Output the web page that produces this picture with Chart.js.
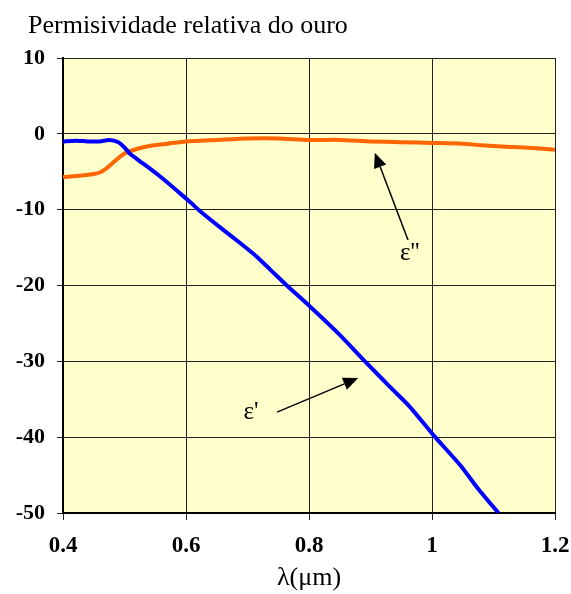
<!DOCTYPE html>
<html>
<head>
<meta charset="utf-8">
<script src="https://cdn.jsdelivr.net/npm/chart.js@4"></script>
<style>
  html,body{margin:0;padding:0;background:#fff;}
  #wrap{width:571px;height:594px;}
</style>
</head>
<body>
<div id="wrap"><canvas id="chart" width="571" height="594"></canvas></div>
<script>
const lambdaReal = [0.40,0.42,0.44,0.46,0.475,0.49,0.50,0.51,0.53,0.556,0.584,0.608,0.623,0.655,0.688,0.715,0.737,0.764,0.802,0.85,0.891,0.932,0.964,1.002,1.046,1.075,1.108];
const epsReal    = [-1.0,-0.9,-1.0,-1.0,-0.8,-1.1,-1.8,-2.7,-3.9,-5.5,-7.4,-9.1,-10.2,-12.3,-14.4,-16.2,-17.9,-20.0,-22.8,-26.5,-30.0,-33.4,-36.0,-39.7,-43.7,-46.8,-50.0];

// ε'' (imaginary part)
const lambdaImag = [0.40,0.43,0.45,0.46,0.47,0.48,0.49,0.50,0.52,0.54,0.57,0.60,0.65,0.70,0.75,0.80,0.85,0.90,0.95,1.00,1.05,1.08,1.12,1.15,1.20];
const epsImag    = [-5.7,-5.5,-5.3,-5.1,-4.6,-3.9,-3.2,-2.6,-2.0,-1.6,-1.3,-1.0,-0.8,-0.6,-0.6,-0.8,-0.8,-1.0,-1.1,-1.2,-1.3,-1.5,-1.7,-1.8,-2.1];

const xTicks = [0.4,0.6,0.8,1.0,1.2];
const yTicks = [10,0,-10,-20,-30,-40,-50];

// annotation arrows: [label, textX, textY, tailX, tailY, tipX, tipY] in data units
const arrows = [
  ["ε''", 0.964, -15.8, 0.961, -14.0, 0.907, -2.5],
  ["ε'",  0.718, -36.8, 0.748, -36.7, 0.880, -32.2]
];

const serif = "'Liberation Serif','Times New Roman',serif";
Chart.defaults.font.family = serif;
Chart.defaults.color = '#000';

const toPts = (xs, ys) => xs.map((x,i)=>({x:x, y:ys[i]}));

const bgPlugin = {
  id:'bg',
  beforeDraw(chart){
    const {ctx, chartArea:a} = chart;
    ctx.save();
    ctx.fillStyle = '#FFFFCC';
    ctx.fillRect(a.left, a.top, a.right-a.left, a.bottom-a.top);
    ctx.restore();
  },
  afterDraw(chart){
    const ctx = chart.ctx;
    ctx.save();
    ctx.fillStyle = '#000';
    ctx.font = '26px '+serif;
    ctx.textBaseline = 'alphabetic';
    ctx.fillText('Permisividade relativa do ouro', 28, 33);
    ctx.restore();
  }
};

const arrowPlugin = {
  id:'arrows',
  afterDatasetsDraw(chart){
    const {ctx, scales:{x, y}} = chart;
    ctx.save();
    arrows.forEach(a=>{
      const tx = x.getPixelForValue(a[1]), ty = y.getPixelForValue(a[2]);
      const x0 = x.getPixelForValue(a[3]), y0 = y.getPixelForValue(a[4]);
      const x1 = x.getPixelForValue(a[5]), y1 = y.getPixelForValue(a[6]);
      const ang = Math.atan2(y1-y0, x1-x0);
      const hl = 15, hw = 6.5;
      ctx.strokeStyle = '#000'; ctx.fillStyle = '#000'; ctx.lineWidth = 1.5;
      ctx.beginPath();
      ctx.moveTo(x0, y0);
      ctx.lineTo(x1 - hl*Math.cos(ang), y1 - hl*Math.sin(ang));
      ctx.stroke();
      ctx.beginPath();
      ctx.moveTo(x1, y1);
      ctx.lineTo(x1 - hl*Math.cos(ang) - hw*Math.sin(ang), y1 - hl*Math.sin(ang) + hw*Math.cos(ang));
      ctx.lineTo(x1 - hl*Math.cos(ang) + hw*Math.sin(ang), y1 - hl*Math.sin(ang) - hw*Math.cos(ang));
      ctx.closePath();
      ctx.fill();
      ctx.font = '25px '+serif;
      ctx.textAlign = a[0]==="ε''" ? 'center' : 'right';
      ctx.textBaseline = 'middle';
      ctx.fillText(a[0], tx, ty);
    });
    ctx.restore();
  }
};

new Chart(document.getElementById('chart').getContext('2d'), {
  type:'line',
  data:{
    datasets:[
      { label:"ε'", data: toPts(lambdaReal, epsReal), borderColor:'#0000FF', borderWidth:4, pointRadius:0, tension:0.2, fill:false },
      { label:"ε''", data: toPts(lambdaImag, epsImag), borderColor:'#FF6600', borderWidth:4, pointRadius:0, tension:0.2, fill:false }
    ]
  },
  options:{
    responsive:false,
    animation:false,
    layout:{ padding:{ left:0, top:58, right:16, bottom:0 } },
    plugins:{ legend:{display:false}, tooltip:{enabled:false}, title:{display:false} },
    scales:{
      x:{
        type:'linear', min:0.4, max:1.2,
        afterBuildTicks: s => { s.ticks = xTicks.map(v=>({value:v})); },
        afterFit: s => { s.height = 81; s.paddingLeft = 0; s.paddingRight = 0; },
        grid:{ color:'#222', lineWidth:1, tickLength:7, drawOnChartArea:true },
        border:{ color:'#000', width:2 },
        ticks:{ padding:12, font:{ size:23, weight:'bold' }, callback: v => String(+v.toFixed(1)), maxRotation:0 },
        title:{ display:true, text:'λ(μm)', font:{ size:26 }, padding:{ top:0, bottom:0 } }
      },
      y:{
        type:'linear', min:-50, max:10,
        afterBuildTicks: s => { s.ticks = yTicks.map(v=>({value:v})); },
        afterFit: s => { s.width = 63; s.paddingTop = 0; s.paddingBottom = 0; },
        grid:{ color:'#222', lineWidth:1, tickLength:6 },
        border:{ color:'#000', width:2 },
        ticks:{ padding:12, font:{ size:22, weight:'bold' } }
      }
    }
  },
  plugins:[bgPlugin, arrowPlugin]
});
</script>
</body>
</html>
